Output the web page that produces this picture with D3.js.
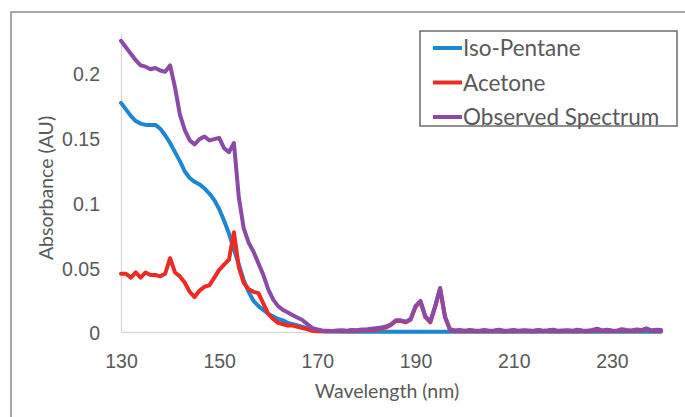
<!DOCTYPE html>
<html><head><meta charset="utf-8">
<script src="https://cdn.jsdelivr.net/npm/d3@7"></script>
<style>
html,body{margin:0;padding:0;background:#fff;}
svg{display:block;font-family:Lato,"Open Sans",sans-serif;}
</style></head>
<body>
<svg id="chart" width="685" height="417"></svg>
<script>
const wavelength = [
130,131,132,133,134,135,136,137,138,139,
140,141,142,143,144,145,146,147,148,149,
150,151,152,153,154,155,156,157,158,159,
160,161,162,163,164,165,166,167,168,169,
170,171,172,173,174,175,176,177,178,179,
180,181,182,183,184,185,186,187,188,189,
190,191,192,193,194,195,196,197,198,199,
200,201,202,203,204,205,206,207,208,209,
210,211,212,213,214,215,216,217,218,219,
220,221,222,223,224,225,226,227,228,229,
230,231,232,233,234,235,236,237,238,239,240];

const isoPentane = [
0.177,0.172,0.167,0.163,0.161,0.160,0.160,0.160,0.157,0.152,
0.146,0.139,0.132,0.124,0.119,0.116,0.114,0.111,0.107,0.102,
0.095,0.086,0.076,0.064,0.052,0.040,0.031,0.024,0.020,0.017,
0.014,0.012,0.010,0.009,0.007,0.006,0.005,0.004,0.003,0.002,
0.001,0.0005,0.0004,0.0003,0.0003,0.0002,0.0002,0.0002,0.0002,0.0002,
0.0002,0.0001,0.0002,0.0001,0.0002,0.0001,0.0002,0.0001,0.0002,0.0001,
0.0001,0.0002,0.0001,0.0001,0.0002,0.0001,0.0001,0.0001,0.0001,0.0001,
0.0001,0.0001,0.0001,0.0001,0.0001,0.0001,0.0001,0.0001,0.0001,0.0001,
0.0001,0.0001,0.0001,0.0001,0.0001,0.0001,0.0001,0.0001,0.0001,0.0001,
0.0001,0.0001,0.0001,0.0001,0.0001,0.0001,0.0001,0.0001,0.0001,0.0001,
0.0001,0.0001,0.0001,0.0001,0.0001,0.0001,0.0001,0.0001,0.0001,0.0001,0.0001];

const acetone = [
0.045,0.045,0.042,0.046,0.042,0.046,0.044,0.044,0.043,0.045,
0.057,0.046,0.043,0.038,0.031,0.027,0.032,0.035,0.036,0.042,
0.048,0.052,0.056,0.077,0.050,0.038,0.033,0.031,0.030,0.022,
0.014,0.010,0.007,0.006,0.005,0.005,0.004,0.003,0.002,0.001,
0.0006,0.0008,0.0005,0.0007,0.0006,0.0008,0.0007,0.0009,0.0010,0.0014,
0.0015,0.0018,0.0022,0.0028,0.0035,0.0055,0.0085,0.0085,0.0075,0.0095,
0.0195,0.0235,0.0115,0.0075,0.0195,0.0335,0.0115,0.0018,0.0008,0.0010,
0.0006,0.0009,0.0007,0.0006,0.0010,0.0007,0.0008,0.0012,0.0006,0.0008,
0.0010,0.0006,0.0009,0.0008,0.0006,0.0011,0.0007,0.0009,0.0012,0.0006,
0.0008,0.0010,0.0006,0.0012,0.0008,0.0006,0.0010,0.0018,0.0008,0.0012,
0.0008,0.0007,0.0016,0.0010,0.0008,0.0014,0.0010,0.0022,0.0008,0.0012,0.0010];

const observed = [
0.225,0.220,0.215,0.210,0.206,0.205,0.203,0.204,0.202,0.201,
0.206,0.189,0.168,0.156,0.148,0.145,0.149,0.151,0.148,0.149,
0.150,0.142,0.139,0.146,0.104,0.080,0.069,0.062,0.053,0.044,
0.033,0.025,0.020,0.017,0.015,0.013,0.011,0.009,0.006,0.003,
0.0020,0.0012,0.0010,0.0008,0.0011,0.0013,0.0010,0.0015,0.0014,0.0020,
0.0020,0.0025,0.0030,0.0035,0.0042,0.0060,0.0090,0.0090,0.0080,0.0100,
0.0200,0.0240,0.0120,0.0080,0.0200,0.0340,0.0120,0.0022,0.0012,0.0015,
0.0010,0.0015,0.0012,0.0010,0.0015,0.0010,0.0012,0.0018,0.0010,0.0012,
0.0015,0.0010,0.0014,0.0012,0.0010,0.0016,0.0010,0.0013,0.0018,0.0010,
0.0012,0.0014,0.0010,0.0018,0.0012,0.0010,0.0015,0.0025,0.0012,0.0018,
0.0012,0.0010,0.0022,0.0015,0.0012,0.0020,0.0015,0.0028,0.0012,0.0018,0.0015];

const seriesNames = ["Iso-Pentane", "Acetone", "Observed Spectrum"];
const seriesColors = ["#1f87cf", "#ee2a24", "#8a4aa6"];
const xTicks = [130, 150, 170, 190, 210, 230];
const yTicks = [0, 0.05, 0.1, 0.15, 0.2];
const yTickLabels = ["0", "0.05", "0.1", "0.15", "0.2"];

const svg = d3.select("#chart");
const textColor = "#595959";

// outer chart frame
svg.append("rect").attr("x", 11).attr("y", 12).attr("width", 720).attr("height", 480)
  .attr("fill", "#fff").attr("stroke", "#8a8a8a").attr("stroke-width", 1.5);

const x = d3.scaleLinear().domain([130, 240]).range([121, 661]);
const y = d3.scaleLinear().domain([0, 0.231]).range([332, 33]);

// axes
const xAxis = d3.axisBottom(x).tickValues(xTicks).tickSize(0).tickPadding(22);
const gx = svg.append("g").attr("transform", "translate(0,332)").call(xAxis);
gx.select(".domain").attr("stroke", "#d9d9d9").attr("stroke-width", 1.3);
gx.selectAll("text").attr("fill", textColor).style("font-size", "19.5px").attr("dy", "0.71em");

const yAxis = d3.axisLeft(y).tickValues(yTicks).tickSize(0).tickPadding(21)
  .tickFormat((d, i) => yTickLabels[i]);
const gy = svg.append("g").attr("transform", "translate(121,0)").call(yAxis);
gy.select(".domain").attr("stroke", "#d9d9d9").attr("stroke-width", 1.3);
gy.selectAll("text").attr("fill", textColor).style("font-size", "19.5px").attr("dy", "0.4em");

// axis titles
svg.append("text").attr("x", 387).attr("y", 398).attr("text-anchor", "middle")
  .attr("fill", textColor).style("font-size", "19.5px").text("Wavelength (nm)");
svg.append("text").attr("transform", "translate(53,188) rotate(-90)").attr("text-anchor", "middle")
  .attr("fill", textColor).style("font-size", "19.5px").text("Absorbance (AU)");

// lines
const data = [isoPentane, acetone, observed];
const line = d3.line().x((d, i) => x(wavelength[i])).y(d => y(d));
svg.append("g").selectAll("path").data(data).join("path")
  .attr("d", d => line(d))
  .attr("fill", "none")
  .attr("stroke", (d, i) => seriesColors[i])
  .attr("stroke-width", 4)
  .attr("stroke-linejoin", "round")
  .attr("stroke-linecap", "round");

// legend
const lg = svg.append("g");
lg.append("rect").attr("x", 420).attr("y", 31).attr("width", 257).attr("height", 95)
  .attr("fill", "#fff").attr("stroke", "#6b6b6b").attr("stroke-width", 1.5);
const rows = lg.selectAll("g.row").data(seriesNames).join("g").attr("class", "row")
  .attr("transform", (d, i) => `translate(0,${48 + i * 34.5})`);
rows.append("line").attr("x1", 433).attr("x2", 462).attr("y1", 0).attr("y2", 0)
  .attr("stroke", (d, i) => seriesColors[i]).attr("stroke-width", 4);
rows.append("text").attr("x", 463).attr("y", 0).attr("dy", "0.36em")
  .attr("fill", textColor).style("font-size", "22.5px").text(d => d);
</script>
</body></html>
